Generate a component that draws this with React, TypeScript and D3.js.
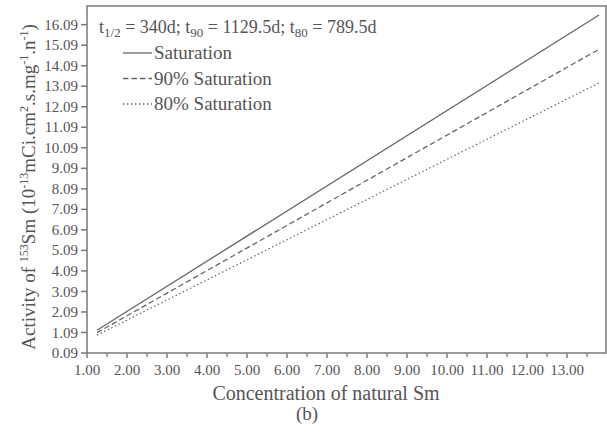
import * as d3 from "d3";
import { useEffect } from "react";

// concentration of natural Sm at the line ends
const concentration = [1.25, 13.8];
// activity values
const saturation = [1.2, 16.56];
const saturation90 = [1.08, 14.89];
const saturation80 = [0.96, 13.25];

const yTicks = [0.09, 1.09, 2.09, 3.09, 4.09, 5.09, 6.09, 7.09, 8.09, 9.09, 10.09, 11.09, 12.09, 13.09, 14.09, 15.09, 16.09];
const xTicks = [1, 2, 3, 4, 5, 6, 7, 8, 9, 10, 11, 12, 13];
const xMinor = [1.5, 2.5, 3.5, 4.5, 5.5, 6.5, 7.5, 8.5, 9.5, 10.5, 11.5, 12.5, 13.5];

const legendNames = ["Saturation", "90% Saturation", "80% Saturation"];
const dashes = ["none", "5.5,3", "1.4,2.6"];

const W = 607;
const H = 437;
const left = 87, right = 606, top = 6, bottom = 353;
const ink = "#555";
const axisGray = "#7a7a7a";
const font = "Liberation Serif, DejaVu Serif, Times New Roman, serif";

export default function App() {
  useEffect(() => {
    document.body.style.margin = "0";
  }, []);

  const x = d3.scaleLinear().domain([1, 14]).range([left, left + 13 * 40]);
  const y = d3.scaleLinear().domain([0.09, 17]).range([bottom, top]);

  const line = d3
    .line<number>()
    .x((_, i) => x(concentration[i]))
    .y((d) => y(d));

  const series = [saturation, saturation90, saturation80];

  return (
    <svg width={W} height={H} style={{ display: "block", background: "#fff", fontFamily: font }}>
      {/* frame */}
      <rect x={left} y={top} width={right - left} height={bottom - top} fill="none" stroke={axisGray} strokeWidth={1.5} />

      {/* y ticks */}
      {yTicks.map((t) => (
        <g key={"y" + t}>
          <line x1={left - 6} x2={left} y1={y(t)} y2={y(t)} stroke={axisGray} strokeWidth={1.5} />
          <text x={78} y={y(t)} dy="0.34em" textAnchor="end" fontSize={15} fill={ink}>
            {t.toFixed(2)}
          </text>
        </g>
      ))}

      {/* x ticks */}
      {xTicks.map((t) => (
        <g key={"x" + t}>
          <line x1={x(t)} x2={x(t)} y1={bottom} y2={bottom + 5} stroke={axisGray} strokeWidth={1.5} />
          <text x={x(t)} y={375} textAnchor="middle" fontSize={15} fill={ink}>
            {t.toFixed(2)}
          </text>
        </g>
      ))}
      {xMinor.map((t) => (
        <line key={"m" + t} x1={x(t)} x2={x(t)} y1={bottom} y2={bottom + 4} stroke={axisGray} strokeWidth={1.3} />
      ))}

      {/* series lines */}
      {series.map((s, i) => (
        <path key={i} d={line(s) || ""} fill="none" stroke="#666" strokeWidth={1.3} strokeDasharray={dashes[i]} />
      ))}

      {/* header + legend */}
      <text x={99} y={33} fontSize={18} fill={ink}>
        t<tspan dy={4} fontSize={13}>1/2</tspan>
        <tspan dy={-4}> = 340d; t</tspan>
        <tspan dy={4} fontSize={13}>90</tspan>
        <tspan dy={-4}> = 1129.5d; t</tspan>
        <tspan dy={4} fontSize={13}>80</tspan>
        <tspan dy={-4}> = 789.5d</tspan>
      </text>
      {legendNames.map((name, i) => {
        const ly = 53 + i * 25.5;
        return (
          <g key={name}>
            <line x1={123} x2={152} y1={ly} y2={ly} stroke="#666" strokeWidth={1.3} strokeDasharray={dashes[i]} />
            <text x={154} y={ly + 6} fontSize={19} fill={ink}>
              {name}
            </text>
          </g>
        );
      })}

      {/* axis titles */}
      <text x={326} y={400} textAnchor="middle" fontSize={20} fill={ink}>
        Concentration of natural Sm
      </text>
      <text x={307} y={420} textAnchor="middle" fontSize={19} fill={ink}>
        (b)
      </text>
      <text transform={`translate(35, 187) rotate(-90)`} textAnchor="middle" fontSize={19} fill={ink}>
        Activity of <tspan fontSize={12} dy={-7}>153</tspan>
        <tspan dy={7}>Sm (10</tspan>
        <tspan fontSize={12} dy={-7}>-13</tspan>
        <tspan dy={7}>mCi.cm</tspan>
        <tspan fontSize={12} dy={-7}>2</tspan>
        <tspan dy={7}>.s.mg</tspan>
        <tspan fontSize={12} dy={-7}>-1</tspan>
        <tspan dy={7}>.n</tspan>
        <tspan fontSize={12} dy={-7}>-1</tspan>
        <tspan dy={7}>)</tspan>
      </text>
    </svg>
  );
}
